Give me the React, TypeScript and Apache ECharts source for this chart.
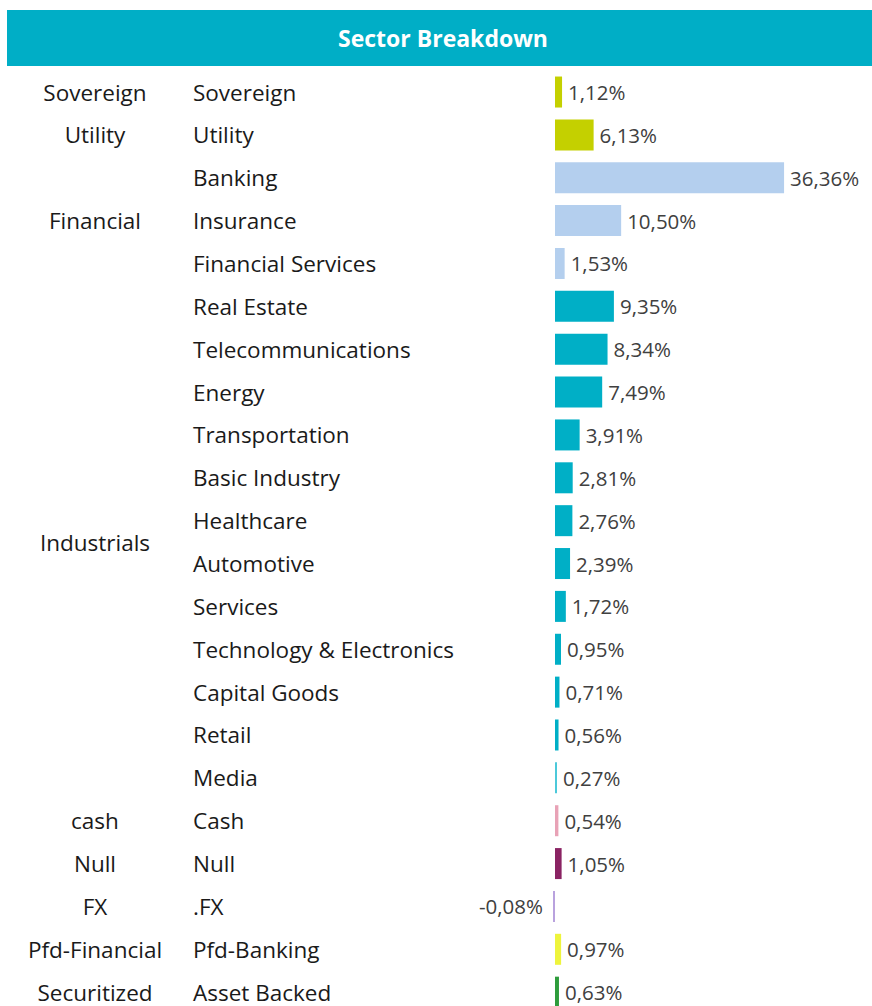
import React, { useEffect, useRef } from "react";
import * as echarts from "echarts";

const TITLE = "Sector Breakdown";

const groups = ["Sovereign", "Utility", "Financial", "Industrials", "cash", "Null", "FX", "Pfd-Financial", "Securitized"];

const sectors = [
  "Sovereign", "Utility", "Banking", "Insurance", "Financial Services", "Real Estate",
  "Telecommunications", "Energy", "Transportation", "Basic Industry", "Healthcare",
  "Automotive", "Services", "Technology & Electronics", "Capital Goods", "Retail", "Media",
  "Cash", "Null", ".FX", "Pfd-Banking", "Asset Backed",
];

// index of the group each sector belongs to
const sectorGroup = [0, 1, 2, 2, 2, 3, 3, 3, 3, 3, 3, 3, 3, 3, 3, 3, 3, 4, 5, 6, 7, 8];

const values = [
  1.12, 6.13, 36.36, 10.5, 1.53, 9.35, 8.34, 7.49, 3.91, 2.81, 2.76, 2.39, 1.72, 0.95, 0.71,
  0.56, 0.27, 0.54, 1.05, -0.08, 0.97, 0.63,
];

// styles
const groupColors = ["#C4D000", "#C4D000", "#B4CFEE", "#00AFC6", "#E8A2B6", "#8A2363", "#B9A2DE", "#EEF43C", "#2E9C3C"];
const sectorColorOverride: Record<string, string> = { Media: "#4CC9DA" };

const FONT = "'Open Sans', 'Noto Sans', sans-serif";

export default function App() {
  const ref = useRef<HTMLDivElement>(null);

  useEffect(() => {
    if (!ref.current) return;
    const chart = echarts.init(ref.current, undefined, { renderer: "svg" });

    const rowTop = 70.6;
    const rowsHeight = 943;
    const zeroX = 555;
    const pxPerUnit = 6.3;
    const xMin = -1;
    const xMax = 40;
    const gridLeft = zeroX + xMin * pxPerUnit;
    const gridWidth = (xMax - xMin) * pxPerUnit;

    const groupCenters = groups.map((g, gi) => {
      const idx = sectorGroup.map((s, i) => (s === gi ? i : -1)).filter((i) => i >= 0);
      return [0.5, (idx[0] + idx[idx.length - 1]) / 2, g];
    });

    const fmt = (v: number) => v.toFixed(2).replace(".", ",") + "%";

    chart.setOption({
      animation: false,
      graphic: [
        {
          type: "rect",
          shape: { x: 7, y: 10, width: 865, height: 56 },
          style: { fill: "#00AEC6" },
        },
        {
          type: "text",
          x: 443,
          y: 38,
          style: {
            text: TITLE,
            fill: "#ffffff",
            font: `bold 23px ${FONT}`,
            textAlign: "center",
            textVerticalAlign: "middle",
          },
        },
      ],
      grid: [
        { left: gridLeft, width: gridWidth, top: rowTop, height: rowsHeight, containLabel: false },
        { left: 7, width: 176, top: rowTop, height: rowsHeight, containLabel: false },
      ],
      xAxis: [
        { type: "value", gridIndex: 0, min: xMin, max: xMax, show: false },
        { type: "value", gridIndex: 1, min: 0, max: 1, show: false },
      ],
      yAxis: [
        {
          type: "category",
          gridIndex: 0,
          inverse: true,
          data: sectors,
          axisLine: { show: false, onZero: false },
          axisTick: { show: false },
          splitLine: { show: false },
          axisLabel: {
            align: "left",
            margin: gridLeft - 193,
            color: "#1a1a1a",
            fontSize: 22.5,
            fontFamily: FONT,
          },
        },
        { type: "value", gridIndex: 1, min: -0.5, max: 21.5, inverse: true, show: false },
      ],
      series: [
        {
          type: "bar",
          xAxisIndex: 0,
          yAxisIndex: 0,
          barWidth: 31,
          barMinHeight: 2,
          data: values.map((v, i) => ({
            value: v,
            itemStyle: { color: sectorColorOverride[sectors[i]] || groupColors[sectorGroup[i]] },
            label: { position: v < 0 ? "left" : "right", distance: v < 0 ? 10 : 6 },
          })),
          label: {
            show: true,
            formatter: (p: any) => fmt(p.value),
            color: "#404040",
            fontSize: 20.5,
            fontFamily: FONT,
          },
        },
        {
          type: "scatter",
          xAxisIndex: 1,
          yAxisIndex: 1,
          symbolSize: 0,
          itemStyle: { opacity: 1 },
          data: groupCenters,
          label: {
            show: true,
            position: "inside",
            formatter: (p: any) => p.value[2],
            color: "#1a1a1a",
            fontSize: 22.5,
            fontFamily: FONT,
          },
        },
      ],
    });

    return () => chart.dispose();
  }, []);

  return (
    <div
      style={{ position: "absolute", left: 0, top: 0, width: 872, height: 1006, overflow: "hidden", background: "#fff" }}
    >
      <div ref={ref} style={{ width: 872, height: 1030 }} />
    </div>
  );
}
